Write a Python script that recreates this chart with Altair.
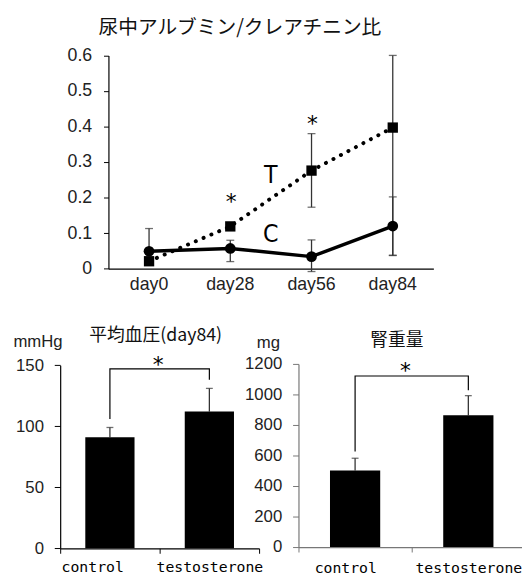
import altair as alt
import pandas as pd

# ---------------- data ----------------
days = ["day0", "day28", "day56", "day84"]
t_mean = [0.021, 0.119, 0.276, 0.397]
t_lo = [0.021, 0.119, 0.173, 0.037]
t_hi = [0.021, 0.119, 0.380, 0.600]
c_mean = [0.049, 0.057, 0.034, 0.120]
c_lo = [0.049, 0.020, -0.008, 0.038]
c_hi = [0.113, 0.080, 0.081, 0.202]
top_star_days = ["day28", "day56"]
top_star_vals = [0.205, 0.422]
group_names = ["T", "C"]
group_label_vals = [0.265, 0.100]
top_ticks = [0, 0.1, 0.2, 0.3, 0.4, 0.5, 0.6]

groups = ["control", "testosterone"]
bp_mean = [91, 112]
bp_err = [99, 131]
bracket_x = ["control", "control", "testosterone", "testosterone"]
bp_bracket_y = [106, 147, 147, 138]
bp_star = [155]
bp_ticks = [0, 50, 100, 150]

kw_mean = [501, 863]
kw_err = [582, 992]
kw_bracket_y = [626, 1121, 1121, 1028]
kw_star = [1190]
kw_ticks = [0, 200, 400, 600, 800, 1000, 1200]

# ---------------- layout ----------------
W, H = 522, 573
TOP_XR = [102, 432]
TOP_YR = [260.3, 43.7]
BP_XR = [53, 255]
BP_YR = [544.3, 358.3]
KW_XR = [295, 525]
KW_YR = [543, 357]

SANS = "Liberation Sans"
JP = "Noto Sans CJK JP"
MONO = "DejaVu Sans Mono"
NARROW = "Liberation Sans Narrow, DejaVu Sans Condensed, Liberation Sans"

# ---------------- top panel ----------------
top_df = pd.DataFrame({
    "day": days * 2,
    "group": ["T"] * 4 + ["C"] * 4,
    "mean": t_mean + c_mean,
    "lo": t_lo + c_lo,
    "hi": t_hi + c_hi,
})
top_star_df = pd.DataFrame({"day": top_star_days, "v": top_star_vals, "s": ["*"] * 2})
top_lab_df = pd.DataFrame({"day": ["day28"] * 2, "v": group_label_vals, "s": group_names})

top_x_axis = alt.Axis(
    orient="bottom", offset=TOP_YR[0] - H, ticks=False, domainColor="black", domainWidth=1.2,
    labelFont=SANS, labelFontSize=18, labelColor="#222", labelPadding=7, labelAngle=0,
    title="尿中アルブミン/クレアチニン比", titleFont=JP, titleFontSize=20, titleFontWeight="normal",
    titleColor="#111", titleX=235, titleY=15 - TOP_YR[0], titleAlign="center", titleBaseline="middle",
)
top_y_axis = alt.Axis(
    orient="left", offset=-TOP_XR[0], values=top_ticks, format="~g", tickSize=5, tickColor="black",
    domainColor="black", domainWidth=1.2, labelFont=SANS, labelFontSize=18, labelColor="#222",
    labelPadding=12, labelOverlap=False, grid=False, title=None,
)
top_xs = alt.Scale(domain=days, range=TOP_XR, paddingInner=0, paddingOuter=0)
top_ys = alt.Scale(domain=[0, 0.6], range=TOP_YR, nice=False, zero=False)


def tx():
    return alt.X("day:N", scale=top_xs, axis=top_x_axis)


def ty(field):
    return alt.Y(f"{field}:Q", scale=top_ys, axis=top_y_axis)


base_top = alt.Chart(top_df)
top_err = base_top.mark_rule(color="#333", strokeWidth=1.3).encode(x=tx(), y=ty("lo"), y2="hi")
top_cap_lo = base_top.mark_tick(color="#333", size=8, thickness=1.3).encode(x=tx(), y=ty("lo"))
top_cap_hi = base_top.mark_tick(color="#333", size=8, thickness=1.3).encode(x=tx(), y=ty("hi"))
t_line = base_top.transform_filter("datum.group == 'T'").mark_line(
    color="black", strokeWidth=4, strokeDash=[0.1, 8.5], strokeCap="round"
).encode(x=tx(), y=ty("mean"))
c_line = base_top.transform_filter("datum.group == 'C'").mark_line(
    color="black", strokeWidth=3.5
).encode(x=tx(), y=ty("mean"))
t_pts = base_top.transform_filter("datum.group == 'T'").mark_point(
    shape="square", filled=True, color="black", size=110, opacity=1
).encode(x=tx(), y=ty("mean"))
c_pts = base_top.transform_filter("datum.group == 'C'").mark_point(
    shape="circle", filled=True, color="black", size=120, opacity=1
).encode(x=tx(), y=ty("mean"))
top_stars = alt.Chart(top_star_df).mark_text(
    font="DejaVu Sans", fontSize=22, color="black", baseline="middle", dx=1, dy=6
).encode(x=tx(), y=ty("v"), text="s:N")
top_labs = alt.Chart(top_lab_df).mark_text(
    font=NARROW, fontSize=25, color="black", baseline="middle", dx=41, dy=1
).encode(x=tx(), y=ty("v"), text="s:N")

top = alt.layer(top_err, top_cap_lo, top_cap_hi, t_line, c_line, t_pts, c_pts, top_stars, top_labs)


# ---------------- bar panels ----------------
def bar_panel(means, errs, bracket_y, star, ticks, xr, yr, ymax, title, title_x, title_y,
              unit, unit_x, unit_y, axis_color, bar_size, label_pad, control_shift, star_dx):
    df = pd.DataFrame({"g": groups, "m": means, "e": errs})
    br = pd.DataFrame({"g": bracket_x, "y": bracket_y, "i": [0, 1, 2, 3]})
    st = pd.DataFrame({"g": ["control"], "y": star, "s": ["*"]})
    xs = alt.Scale(domain=groups, range=xr, paddingInner=0, paddingOuter=0)
    ys = alt.Scale(domain=[0, ymax], range=yr, nice=False, zero=True)
    x_axis = alt.Axis(
        orient="bottom", offset=yr[0] - H, tickBand="extent", tickSize=5, tickColor=axis_color,
        domainColor=axis_color, domainWidth=1.2, labelFont=MONO, labelFontSize=15, labelColor="black",
        labelPadding=label_pad, labelAngle=0,
        labelOffset={"condition": {"test": "datum.value === 'control'", "value": control_shift}, "value": 0},
        title=title, titleFont=JP, titleFontSize=18, titleFontWeight="normal", titleColor="#111",
        titleX=title_x, titleY=title_y - yr[0], titleAlign="center", titleBaseline="middle",
    )
    y_axis = alt.Axis(
        orient="left", offset=-xr[0], values=ticks, format="d", tickSize=6, tickColor=axis_color,
        domainColor=axis_color, domainWidth=1.2, labelFont=SANS, labelFontSize=17, labelColor="#222",
        labelPadding=11, labelOverlap=False, grid=False,
        title=unit, titleFont=SANS, titleFontSize=17, titleFontWeight="normal", titleColor="#222",
        titleAngle=0, titleX=unit_x - xr[0], titleY=unit_y, titleAlign="center", titleBaseline="middle",
    )

    def X():
        return alt.X("g:N", scale=xs, axis=x_axis)

    def Y(f):
        return alt.Y(f"{f}:Q", scale=ys, axis=y_axis)

    bars = alt.Chart(df).mark_bar(color="black", size=bar_size).encode(x=X(), y=Y("m"))
    err = alt.Chart(df).mark_rule(color="#333", strokeWidth=1.3).encode(x=X(), y=Y("m"), y2="e")
    cap = alt.Chart(df).mark_tick(color="#333", size=7, thickness=1.3).encode(x=X(), y=Y("e"))
    bracket = alt.Chart(br).mark_line(color="black", strokeWidth=1.2).encode(
        x=X(), y=Y("y"), order="i:Q"
    )
    stars = alt.Chart(st).mark_text(
        font="DejaVu Sans", fontSize=22, color="black", baseline="middle", dx=star_dx, dy=6
    ).encode(x=X(), y=Y("y"), text="s:N")
    return alt.layer(bracket, err, cap, bars, stars)


bp = bar_panel(bp_mean, bp_err, bp_bracket_y, bp_star, bp_ticks, BP_XR, BP_YR, 150,
               "平均血圧(day84)", 149.5, 328, "mmHg", 30, 334.7, "black", 50, 7, -18, 49)
kw = bar_panel(kw_mean, kw_err, kw_bracket_y, kw_star, kw_ticks, KW_XR, KW_YR, 1200,
               "腎重量", 394.5, 333.7, "mg", 264, 335, "#777", 51, 9, -10, 51)

chart = alt.layer(top, bp, kw).resolve_scale(
    x="independent", y="independent"
).resolve_axis(
    x="independent", y="independent"
).properties(
    width=W, height=H, autosize="none", padding=0
).configure_view(stroke=None)

chart.save("out.html", embed_options={"renderer": "svg", "actions": False})
